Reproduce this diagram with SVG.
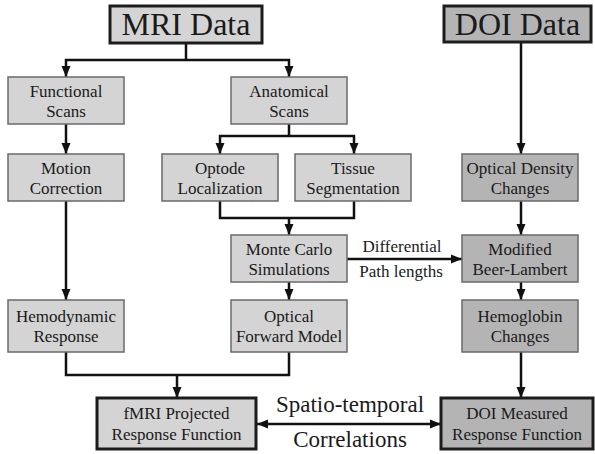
<svg xmlns="http://www.w3.org/2000/svg" width="595" height="454" viewBox="0 0 595 454" font-family="'Liberation Serif', 'DejaVu Serif', serif">
<defs>
<style>
.box{fill:#d4d4d4;stroke:#6a6a6a;stroke-width:1.5}
.dark{fill:#b4b4b4}
.thick{stroke:#1c1c1c;stroke-width:3}
text{font-family:'Liberation Serif','DejaVu Serif',serif;fill:#1a1a1a;text-anchor:middle}
.t{font-size:17px}
.big{font-size:32px}
.lab{font-size:23px}
.c{fill:none;stroke:#111;stroke-width:2.5}
</style>
<marker id="ah" markerUnits="userSpaceOnUse" markerWidth="12" markerHeight="12" viewBox="0 0 12 12" refX="11" refY="6" orient="auto-start-reverse">
<path d="M0,1.5 L11,6 L0,10.5 Z" fill="#111"/>
</marker>
</defs>
<rect width="595" height="454" fill="#fff"/>
<g id="connectors">
<path class="c" d="M186 43 V60"/>
<path class="c" d="M186 60 H66 V77" marker-end="url(#ah)"/>
<path class="c" d="M186 60 H289 V77" marker-end="url(#ah)"/>
<path class="c" d="M66 124 V154" marker-end="url(#ah)"/>
<path class="c" d="M289 124 V136"/>
<path class="c" d="M289 136 H220 V154" marker-end="url(#ah)"/>
<path class="c" d="M289 136 H354 V154" marker-end="url(#ah)"/>
<path class="c" d="M220 201 V218 H354 V201"/>
<path class="c" d="M289 218 V235" marker-end="url(#ah)"/>
<path class="c" d="M289 282 V300" marker-end="url(#ah)"/>
<path class="c" d="M66 201 V300" marker-end="url(#ah)"/>
<path class="c" d="M66 352 V375 H289 V352"/>
<path class="c" d="M177 375 V398" marker-end="url(#ah)"/>
<path class="c" d="M521 42 V154" marker-end="url(#ah)"/>
<path class="c" d="M521 201 V235" marker-end="url(#ah)"/>
<path class="c" d="M521 282 V300" marker-end="url(#ah)"/>
<path class="c" d="M521 352 V398" marker-end="url(#ah)"/>
<path class="c" d="M347 259 H462" marker-end="url(#ah)"/>
<path class="c" d="M257 424 H441" marker-start="url(#ah)" marker-end="url(#ah)"/>
<text class="t" x="402" y="252">Differential</text>
<text class="t" x="401" y="277">Path lengths</text>
<text class="lab" x="350" y="412">Spatio-temporal</text>
<text class="lab" x="350" y="447">Correlations</text>
</g>
<g id="mri-data">
<rect class="box thick" x="110" y="6" width="152" height="37"/>
<text class="big" x="186" y="35">MRI Data</text>
</g>
<g id="doi-data">
<rect class="box dark thick" x="444" y="6" width="147" height="36"/>
<text class="big" x="517.5" y="35">DOI Data</text>
</g>
<g id="functional-scans">
<rect class="box" x="8" y="77" width="116" height="47"/>
<text class="t" x="66" y="97">Functional</text>
<text class="t" x="66" y="117">Scans</text>
</g>
<g id="anatomical-scans">
<rect class="box" x="231" y="77" width="116" height="47"/>
<text class="t" x="289" y="97">Anatomical</text>
<text class="t" x="289" y="117">Scans</text>
</g>
<g id="motion-correction">
<rect class="box" x="8" y="154" width="116" height="47"/>
<text class="t" x="66" y="174">Motion</text>
<text class="t" x="66" y="194">Correction</text>
</g>
<g id="optode-localization">
<rect class="box" x="162" y="154" width="116" height="47"/>
<text class="t" x="220" y="174">Optode</text>
<text class="t" x="220" y="194">Localization</text>
</g>
<g id="tissue-segmentation">
<rect class="box" x="295" y="154" width="116" height="47"/>
<text class="t" x="353" y="174">Tissue</text>
<text class="t" x="353" y="194">Segmentation</text>
</g>
<g id="optical-density-changes">
<rect class="box dark" x="462" y="154" width="116" height="47"/>
<text class="t" x="520" y="174">Optical Density</text>
<text class="t" x="520" y="194">Changes</text>
</g>
<g id="monte-carlo">
<rect class="box" x="231" y="235" width="116" height="47"/>
<text class="t" x="289" y="255">Monte Carlo</text>
<text class="t" x="289" y="275">Simulations</text>
</g>
<g id="modified-beer-lambert">
<rect class="box dark" x="462" y="235" width="116" height="47"/>
<text class="t" x="520" y="255">Modified</text>
<text class="t" x="520" y="275">Beer-Lambert</text>
</g>
<g id="hemodynamic-response">
<rect class="box" x="8" y="300" width="116" height="52"/>
<text class="t" x="66" y="322">Hemodynamic</text>
<text class="t" x="66" y="342">Response</text>
</g>
<g id="optical-forward-model">
<rect class="box" x="231" y="300" width="116" height="52"/>
<text class="t" x="289" y="322">Optical</text>
<text class="t" x="289" y="342">Forward Model</text>
</g>
<g id="hemoglobin-changes">
<rect class="box dark" x="462" y="300" width="116" height="52"/>
<text class="t" x="520" y="322">Hemoglobin</text>
<text class="t" x="520" y="342">Changes</text>
</g>
<g id="fmri-projected">
<rect class="box thick" x="97" y="398" width="159" height="51"/>
<text class="t" x="176.5" y="419">fMRI Projected</text>
<text class="t" x="176.5" y="440">Response Function</text>
</g>
<g id="doi-measured">
<rect class="box dark thick" x="441" y="398" width="152" height="51"/>
<text class="t" x="517" y="419">DOI Measured</text>
<text class="t" x="517" y="440">Response Function</text>
</g>
</svg>
